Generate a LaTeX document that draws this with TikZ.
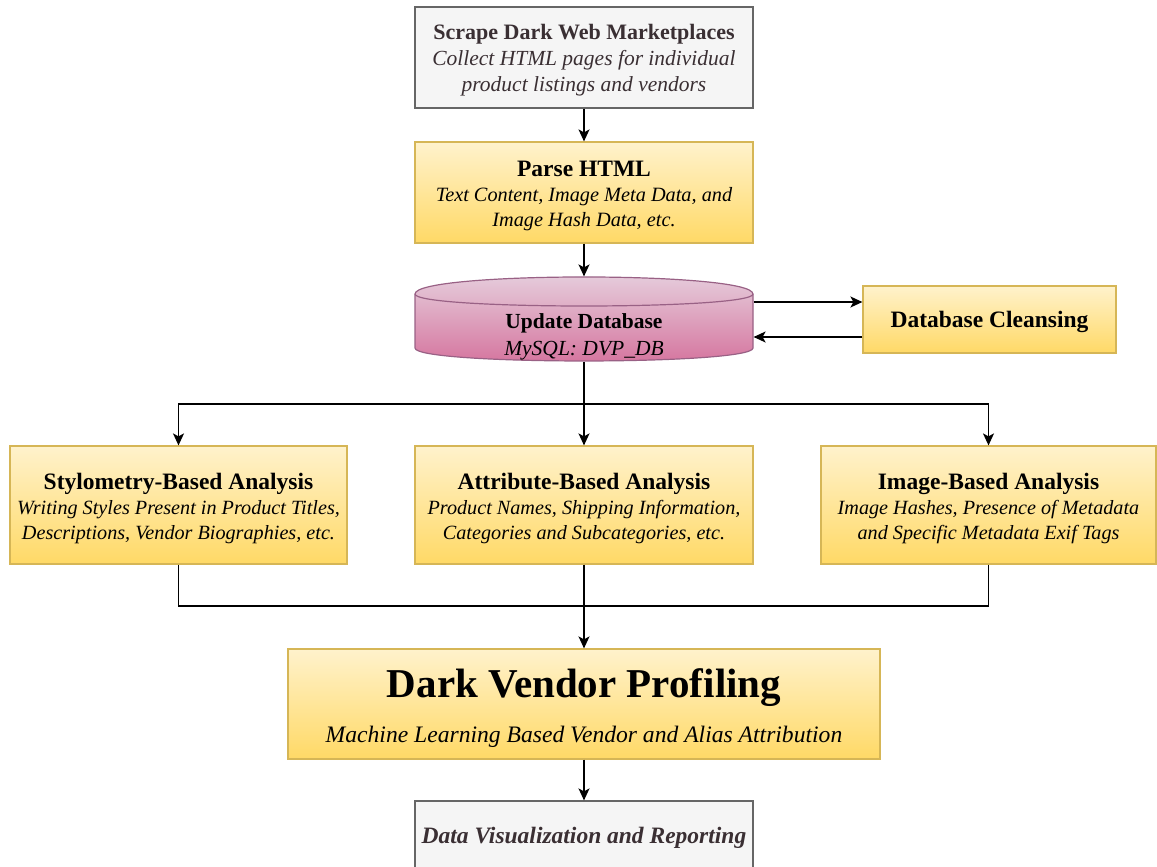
\documentclass[tikz,border=0pt]{standalone}
\usepackage{fontspec}
\setmainfont{Liberation Serif}
\usetikzlibrary{arrows.meta,calc}
\definecolor{grayfill}{HTML}{F5F5F5}
\definecolor{grayline}{HTML}{666666}
\definecolor{graytext}{HTML}{3A2F33}
\definecolor{yeltop}{HTML}{FFF2CC}
\definecolor{yelbot}{HTML}{FFD966}
\definecolor{yelline}{HTML}{D6B656}
\definecolor{pinktop}{HTML}{E6D0DE}
\definecolor{pinkbot}{HTML}{D5739D}
\definecolor{pinkline}{HTML}{996185}
\newcommand{\ttl}[2]{{\bfseries\fontsize{#1}{25}\selectfont #2}}
\newcommand{\sub}[2]{{\itshape\fontsize{#1}{25}\selectfont #2}}
\tikzset{
  box/.style={rectangle, inner sep=0pt, line width=1.2pt},
  graybox/.style={box, draw=grayline, fill=grayfill},
  yelbox/.style={box, draw=yelline, top color=yeltop, bottom color=yelbot},
  boxtext/.style={inner sep=0pt, align=center, font=\fontsize{20}{25}\selectfont},
  graytxt/.style={boxtext, text=graytext},
  link/.style={line width=1.5pt, draw=black},
  arr/.style={link, -{Stealth[length=12pt,width=11pt,inset=3pt]}}
}
\begin{document}
\begin{tikzpicture}[x=1pt,y=-1pt]
\useasboundingbox (0,0) rectangle (1157,867);
\clip (0,0) rectangle (1157,867);

% source stage
\node[graybox, minimum width=338pt, minimum height=101pt] (scrape) at (584,57.5) {};
\node[graytxt, font=\fontsize{20}{26}\selectfont] (scrape-text) at ([yshift=-2.5pt]scrape.center)
  {\ttl{22}{Scrape Dark Web Marketplaces}\\
   \sub{21.5}{Collect HTML pages for individual}\\
   \sub{21.5}{product listings and vendors}};

\node[yelbox, minimum width=338pt, minimum height=101pt] (parse) at (584,192.5) {};
\node[boxtext] (parse-text) at ([yshift=-3.5pt]parse.center)
  {\ttl{23.5}{Parse HTML}\\
   \sub{20.3}{Text Content, Image Meta Data, and}\\
   \sub{20.3}{Image Hash Data, etc.}};

% database cylinder
\shade[top color=pinktop, bottom color=pinkbot, draw=pinkline, line width=1.2pt]
  (415,294) -- (415,348) .. controls (415,365.3) and (753,365.3) .. (753,348)
  -- (753,294) .. controls (753,271.3) and (415,271.3) .. (415,294) -- cycle;
\draw[draw=pinkline, line width=1.2pt]
  (415,294) .. controls (415,310) and (753,310) .. (753,294);
\node[box, minimum width=338pt, minimum height=84pt] (db) at (584,319) {};
\node[boxtext, font=\fontsize{20}{27}\selectfont] (db-text) at (584,337)
  {\ttl{21.5}{Update Database}\\ \sub{21.5}{MySQL: DVP\_DB}};

\node[yelbox, minimum width=253pt, minimum height=67pt] (clean) at (989.5,319.5) {};
\node[boxtext] (clean-text) at ([yshift=-2.5pt]clean.center) {\ttl{23.5}{Database Cleansing}};

% analysis stage
\node[yelbox, minimum width=337pt, minimum height=118pt] (sty) at (178.5,505) {};
\node[boxtext] (sty-text) at ([yshift=-3.5pt]sty.center)
  {\ttl{23.5}{Stylometry-Based Analysis}\\
   \sub{20.2}{Writing Styles Present in Product Titles,}\\
   \sub{20.2}{Descriptions, Vendor Biographies, etc.}};
\node[yelbox, minimum width=338pt, minimum height=118pt] (attr) at (584,505) {};
\node[boxtext] (attr-text) at ([yshift=-3.5pt]attr.center)
  {\ttl{23.5}{Attribute-Based Analysis}\\
   \sub{20.2}{Product Names, Shipping Information,}\\
   \sub{20.2}{Categories and Subcategories, etc.}};
\node[yelbox, minimum width=335pt, minimum height=118pt] (img) at (988.5,505) {};
\node[boxtext] (img-text) at ([yshift=-3.5pt]img.center)
  {\ttl{23.5}{Image-Based Analysis}\\
   \sub{20.2}{Image Hashes, Presence of Metadata}\\
   \sub{20.2}{and Specific Metadata Exif Tags}};

% profiling and reporting
\node[yelbox, minimum width=592pt, minimum height=110pt] (dvp) at (584,704) {};
\node[boxtext] (dvp-title) at (584,688)
  {\bfseries\fontsize{41}{44}\selectfont Dark Vendor Profiling};
\node[boxtext] (dvp-sub) at (584,737)
  {\sub{23.6}{Machine Learning Based Vendor and Alias Attribution}};

\node[graybox, minimum width=338pt, minimum height=68pt] (report) at (584,835) {};
\node[graytxt] (report-text) at ([yshift=-2.5pt]report.center)
  {\bfseries\itshape\fontsize{23.5}{26}\selectfont Data Visualization and Reporting};

% connectors
\draw[arr] (scrape.south) -- (parse.north);
\draw[arr] (parse.south) -- (db.north);

\path ([yshift=17pt]db.east) coordinate (toclean);
\path ([yshift=-18pt]db.east) coordinate (fromclean);
\draw[arr] (toclean) -- (toclean -| clean.west);
\draw[arr] (fromclean -| clean.west) -- (fromclean);

\coordinate (split) at (584,404);
\draw[link] (db.south) -- (split);
\draw[arr] (split) -| (sty.north);
\draw[arr] (split) -- (attr.north);
\draw[arr] (split) -| (img.north);

\coordinate (merge) at (584,606);
\draw[link] (sty.south) |- (merge);
\draw[link] (img.south) |- (merge);
\draw[arr] (attr.south) -- (dvp.north);

\draw[arr] (dvp.south) -- (report.north);
\end{tikzpicture}
\end{document}
